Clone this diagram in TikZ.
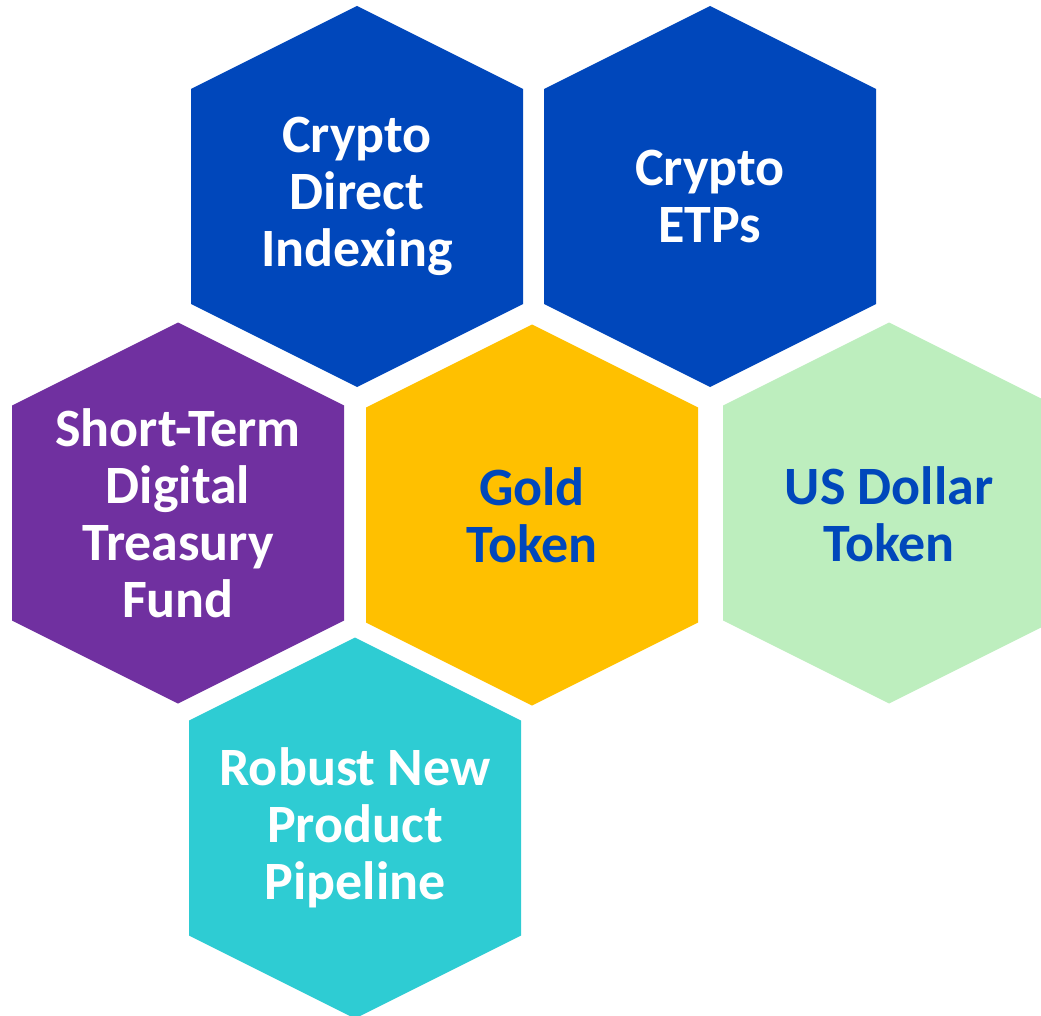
\documentclass[tikz,border=0pt]{standalone}
\usepackage{fontspec}
\setmainfont{Carlito}
\definecolor{hblue}{RGB}{0,71,187}
\definecolor{hpurple}{RGB}{112,48,160}
\definecolor{hgold}{RGB}{255,192,0}
\definecolor{hgreen}{RGB}{189,238,190}
\definecolor{hteal}{RGB}{46,204,211}
\newcommand{\hexshape}[3]{%
  \fill[#3] (#1,#2-190.5) -- (#1+166,#2-107.5) -- (#1+166,#2+107.5) -- (#1,#2+190.5)
    -- (#1-166,#2+107.5) -- (#1-166,#2-107.5) -- cycle;}
\begin{document}
\begin{tikzpicture}[x=1pt,y=-1pt,
  hextext/.style={font=\fontsize{54}{57}\selectfont\bfseries, align=center, inner sep=0pt},
  lighttext/.style={hextext, text=white},
  darktext/.style={hextext, text=hblue}]
\useasboundingbox (0,0) rectangle (1041,1016);
\begin{scope}
\clip (0,0) rectangle (1041,1016);
\hexshape{357}{196.5}{hblue}
\hexshape{710}{196.5}{hblue}
\hexshape{178}{513}{hpurple}
\hexshape{532}{515}{hgold}
\hexshape{889}{513}{hgreen}
\hexshape{355}{828}{hteal}
\end{scope}
\node[lighttext] (cdi) at (357,196.5) {Crypto\\Direct\\Indexing};
\node[lighttext] (etp) at (710,196.5) {Crypto\\ETPs};
\node[lighttext] (stf) at (178,513) {Short-Term\\Digital\\Treasury\\Fund};
\node[darktext] (gold) at (532,515) {Gold\\Token};
\node[darktext] (usd) at (889,514) {US Dollar\\Token};
\node[lighttext] (rnp) at (355,828) {Robust New\\Product\\Pipeline};
\end{tikzpicture}
\end{document}
